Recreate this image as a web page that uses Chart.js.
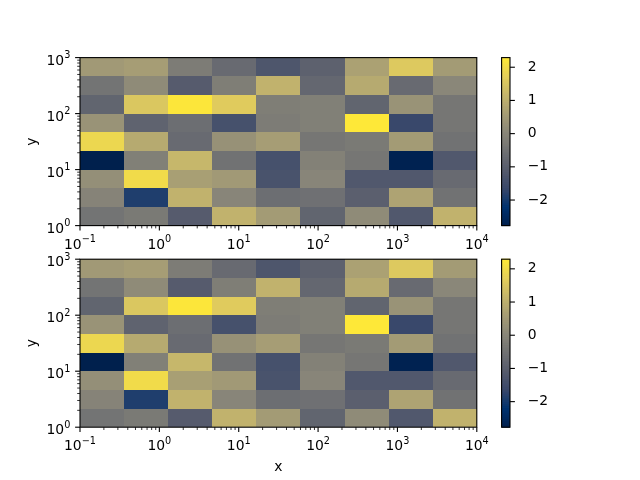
<!DOCTYPE html>
<html>
<head>
<meta charset="utf-8">
<script src="https://cdn.jsdelivr.net/npm/chart.js@4.4.1/dist/chart.umd.min.js"></script>
<style>
  html, body { margin: 0; padding: 0; background: #fff; }
  #wrap { position: relative; width: 640px; height: 480px; }
  #wrap canvas { position: absolute; left: 0; top: 0; }
</style>
</head>
<body>
<div id="wrap">
  <canvas id="map1" width="640" height="480"></canvas>
  <canvas id="bar1" width="640" height="480"></canvas>
  <canvas id="map2" width="640" height="480"></canvas>
  <canvas id="bar2" width="640" height="480"></canvas>
</div>
<script>
// cell edges (log spaced)
const xEdges = [0.1, 0.3594, 1.2915, 4.6416, 16.681, 59.948, 215.44, 774.26, 2782.6, 10000];
const yEdges = [1, 2.1544, 4.6416, 10, 21.544, 46.416, 100, 215.44, 464.16, 1000];

// values, rows from bottom (y=1) to top (y=1000)
const zRow0 = [-0.45, -0.30, -1.10, 1.10, 0.55, -0.85, 0.15, -1.20, 1.10];
const zRow1 = [-0.05, -1.90, 1.10, 0.00, -0.60, -0.55, -1.00, 0.75, -0.50];
const zRow2 = [0.25, 2.00, 0.65, 0.50, -1.35, 0.00, -1.20, -1.20, -0.70];
const zRow3 = [-2.77, -0.15, 1.20, -0.50, -1.40, -0.10, -0.40, -2.70, -1.20];
const zRow4 = [1.90, 0.90, -0.70, 0.30, 0.60, -0.40, -0.30, 0.55, -0.50];
const zRow5 = [0.35, -0.90, -0.60, -1.40, -0.25, -0.15, 2.29, -1.65, -0.40];
const zRow6 = [-0.85, 1.55, 2.25, 1.65, -0.20, -0.15, -0.85, 0.35, -0.40];
const zRow7 = [-0.45, 0.15, -1.10, -0.20, 1.10, -0.80, 0.90, -0.70, 0.05];
const zRow8 = [0.50, 0.60, -0.25, -0.70, -1.25, -0.95, 0.70, 1.60, 0.55];
const zRows = [zRow0, zRow1, zRow2, zRow3, zRow4, zRow5, zRow6, zRow7, zRow8];

// major ticks and their exponent labels (drawn as 10 + superscript)
const xMajorTicks = [0.1, 1, 10, 100, 1000, 10000];
const xTickExps = ['\u22121', '0', '1', '2', '3', '4'];
const yMajorTicks = [1, 10, 100, 1000];
const yTickExps = ['0', '1', '2', '3'];
const cbarTicks = [-2, -1, 0, 1, 2];
const cbarTickLabels = ['\u22122', '\u22121', '0', '1', '2'];

// cividis colormap stops
const cividisStops = [
  [0, 32, 77], [0, 51, 111], [57, 72, 107], [87, 92, 109], [112, 113, 115],
  [138, 135, 121], [166, 157, 117], [196, 181, 108], [228, 207, 91], [254, 232, 56]
];

const allZ = zRows.flat();
const vmin = Math.min(...allZ);
const vmax = Math.max(...allZ);

function cmap(v) {
  let t = (v - vmin) / (vmax - vmin);
  t = Math.max(0, Math.min(1, t)) * (cividisStops.length - 1);
  const i = Math.min(Math.floor(t), cividisStops.length - 2);
  const f = t - i;
  const a = cividisStops[i], b = cividisStops[i + 1];
  const c = a.map((av, k) => Math.round(av + (b[k] - av) * f));
  return `rgb(${c[0]},${c[1]},${c[2]})`;
}

const cells = [];
zRows.forEach((row, j) => {
  row.forEach((v, i) => {
    cells.push({
      x: Math.sqrt(xEdges[i] * xEdges[i + 1]),
      y: Math.sqrt(yEdges[j] * yEdges[j + 1]),
      x0: xEdges[i], x1: xEdges[i + 1], y0: yEdges[j], y1: yEdges[j + 1], v
    });
  });
});

Chart.defaults.font.family = 'DejaVu Sans';
Chart.defaults.font.size = 13.9;
Chart.defaults.color = '#000';

const baseFont = '13.9px "DejaVu Sans"';
const supFont = '9.7px "DejaVu Sans"';

function logTicks(majors) {
  const out = [];
  majors.forEach((m, k) => {
    out.push({ value: m, major: true });
    if (k < majors.length - 1) {
      for (let n = 2; n <= 9; n++) out.push({ value: m * n, major: false });
    }
  });
  return out;
}

// "10" with a raised exponent, like matplotlib's mathtext
function powLabel(ctx, exp, x, baseline, align) {
  ctx.font = baseFont;
  const w1 = ctx.measureText('10').width;
  ctx.font = supFont;
  const w2 = ctx.measureText(exp).width;
  const x0 = align === 'right' ? x - w1 - w2 : x - (w1 + w2) / 2;
  ctx.textAlign = 'left';
  ctx.textBaseline = 'alphabetic';
  ctx.font = baseFont;
  ctx.fillText('10', x0, baseline);
  ctx.font = supFont;
  ctx.fillText(exp, x0 + w1, baseline - 6.5);
}

const cellPlugin = {
  id: 'cells',
  beforeDatasetsDraw(chart) {
    const { ctx, scales: { x, y } } = chart;
    ctx.save();
    chart.data.datasets[0].data.forEach(c => {
      const l = Math.round(x.getPixelForValue(c.x0));
      const r = Math.round(x.getPixelForValue(c.x1));
      const t = Math.round(y.getPixelForValue(c.y1));
      const b = Math.round(y.getPixelForValue(c.y0));
      ctx.fillStyle = cmap(c.v);
      ctx.fillRect(l, t, r - l, b - t);
    });
    ctx.restore();
  }
};

const colorbarPlugin = {
  id: 'cbar',
  beforeDatasetsDraw(chart) {
    const { ctx, chartArea: a, scales: { y } } = chart;
    const n = 256;
    ctx.save();
    for (let k = 0; k < n; k++) {
      const v0 = vmin + (vmax - vmin) * k / n;
      const v1 = vmin + (vmax - vmin) * (k + 1) / n;
      const t = y.getPixelForValue(v1);
      const b = y.getPixelForValue(v0);
      ctx.fillStyle = cmap((v0 + v1) / 2);
      ctx.fillRect(a.left, t - 0.5, a.right - a.left, b - t + 1);
    }
    ctx.restore();
  }
};

function drawTicks(ctx, scale, side) {
  scale.ticks.forEach(tk => {
    const len = tk.major ? 4.9 : 2.8;
    ctx.lineWidth = tk.major ? 1.1 : 0.8;
    const p = scale.getPixelForValue(tk.value);
    ctx.beginPath();
    if (side === 'bottom') { ctx.moveTo(p, scale.top); ctx.lineTo(p, scale.top + len); }
    if (side === 'left') { ctx.moveTo(scale.right, p); ctx.lineTo(scale.right - len, p); }
    if (side === 'right') { ctx.moveTo(scale.left, p); ctx.lineTo(scale.left + len, p); }
    ctx.stroke();
  });
}

const framePlugin = {
  id: 'frame',
  afterDraw(chart) {
    const { ctx, chartArea: a, scales } = chart;
    ctx.save();
    ctx.strokeStyle = '#000';
    ctx.fillStyle = '#000';
    ctx.lineWidth = 1.1;
    ctx.strokeRect(a.left, a.top, a.right - a.left, a.bottom - a.top);
    if (scales.x.options.display) drawTicks(ctx, scales.x, 'bottom');
    drawTicks(ctx, scales.y, scales.y.options.position);
    if (scales.x.type === 'logarithmic') {
      xMajorTicks.forEach((v, k) => {
        powLabel(ctx, xTickExps[k], scales.x.getPixelForValue(v), a.bottom + 23, 'center');
      });
      yMajorTicks.forEach((v, k) => {
        powLabel(ctx, yTickExps[k], a.left - 9.7, scales.y.getPixelForValue(v) + 7.2, 'right');
      });
    }
    ctx.restore();
  }
};

function heatmap(id, top, bottom, xAxisH, showXTitle) {
  return new Chart(document.getElementById(id), {
    type: 'scatter',
    data: { datasets: [{ data: cells, pointRadius: 0 }] },
    options: {
      responsive: false,
      animation: false,
      events: [],
      layout: { padding: { left: 24, right: 163.2, top: top, bottom: 480 - bottom - xAxisH } },
      plugins: { legend: { display: false }, tooltip: { enabled: false } },
      scales: {
        x: {
          type: 'logarithmic', min: 0.1, max: 10000,
          grid: { display: false }, border: { display: false },
          afterBuildTicks: s => { s.ticks = logTicks(xMajorTicks); },
          afterFit: s => { s.height = xAxisH; },
          ticks: { display: false },
          title: { display: showXTitle, text: 'x', padding: 0 }
        },
        y: {
          type: 'logarithmic', min: 1, max: 1000,
          grid: { display: false }, border: { display: false },
          afterBuildTicks: s => { s.ticks = logTicks(yMajorTicks); },
          afterFit: s => { s.width = 56; },
          ticks: { display: false },
          title: { display: true, text: 'y', padding: 0 }
        }
      }
    },
    plugins: [cellPlugin, framePlugin]
  });
}

function colorbar(id, top, bottom) {
  return new Chart(document.getElementById(id), {
    type: 'scatter',
    data: { datasets: [{ data: [], pointRadius: 0 }] },
    options: {
      responsive: false,
      animation: false,
      events: [],
      layout: { padding: { left: 501.6, right: 0, top: top, bottom: 480 - bottom } },
      plugins: { legend: { display: false }, tooltip: { enabled: false } },
      scales: {
        x: { type: 'linear', min: 0, max: 1, display: false },
        y: {
          type: 'linear', position: 'right', min: vmin, max: vmax,
          grid: { display: false }, border: { display: false },
          afterBuildTicks: s => { s.ticks = cbarTicks.map(v => ({ value: v, major: true })); },
          afterFit: s => { s.width = 130; },
          ticks: { autoSkip: false, padding: 9.7,
                   callback: v => cbarTickLabels[cbarTicks.indexOf(v)] }
        }
      }
    },
    plugins: [colorbarPlugin, framePlugin]
  });
}

heatmap('map1', 57.6, 225.6, 40, false);
colorbar('bar1', 57.6, 225.6);
heatmap('map2', 259.2, 427.2, 48.4, true);
colorbar('bar2', 259.2, 427.2);
</script>
</body>
</html>
